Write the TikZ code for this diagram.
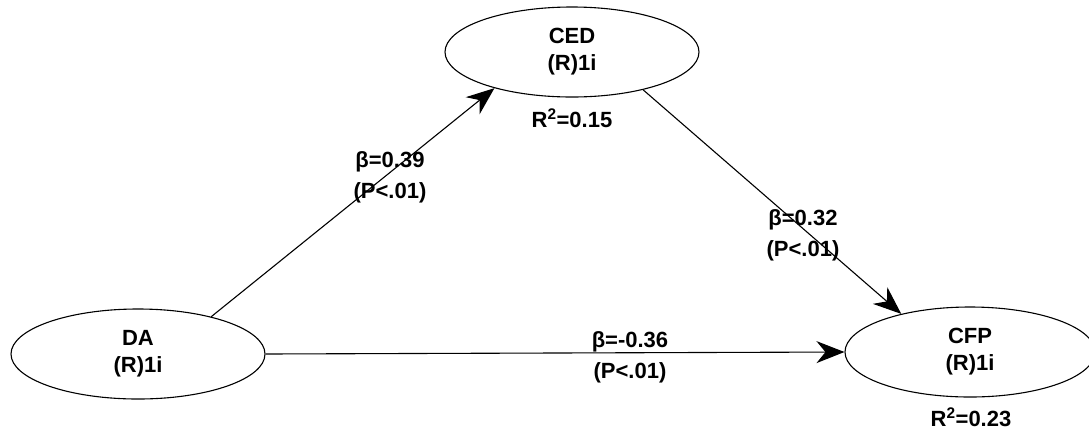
\documentclass[tikz,border=0pt]{standalone}
\usepackage{fontspec}
\setmainfont{Liberation Sans}
\usetikzlibrary{shapes.geometric,arrows.meta}
\begin{document}
\begin{tikzpicture}[x=1pt,y=-1pt,
  construct/.style={draw=black, line width=1.1pt, ellipse, inner sep=0pt, align=center,
    font=\fontsize{22}{27}\selectfont\bfseries},
  lbl/.style={inner sep=0pt, align=center, font=\fontsize{22}{31}\selectfont\bfseries},
  conn/.style={draw=black, line width=1.1pt, -{Stealth[length=28pt,width=22pt,inset=9pt]}}]
\useasboundingbox (0,0) rectangle (1089,432);
\node[construct, minimum width=254pt, minimum height=90pt] (CED) at (572,52) {CED\\(R)1i};
\node[construct, minimum width=254pt, minimum height=90pt] (DA) at (138,354) {DA\\(R)1i};
\node[construct, minimum width=250pt, minimum height=90pt] (CFP) at (970,352) {CFP\\(R)1i};
\node[lbl] (r2a) at (572,118) {R\textsuperscript{2}=0.15};
\node[lbl] (r2b) at (971,417) {R\textsuperscript{2}=0.23};
\node[lbl] (l1) at (390,177) {β=0.39\\(P<.01)};
\node[lbl] (l2) at (803,235) {β=0.32\\(P<.01)};
\node[lbl] (l3) at (630,357) {β=-0.36\\(P<.01)};
\draw[conn] (DA.27) -- (CED.205.5);
\draw[conn] (CED.-28) -- (CFP.151.5);
\draw[conn] (DA.east) -- (CFP.west);
\end{tikzpicture}
\end{document}
